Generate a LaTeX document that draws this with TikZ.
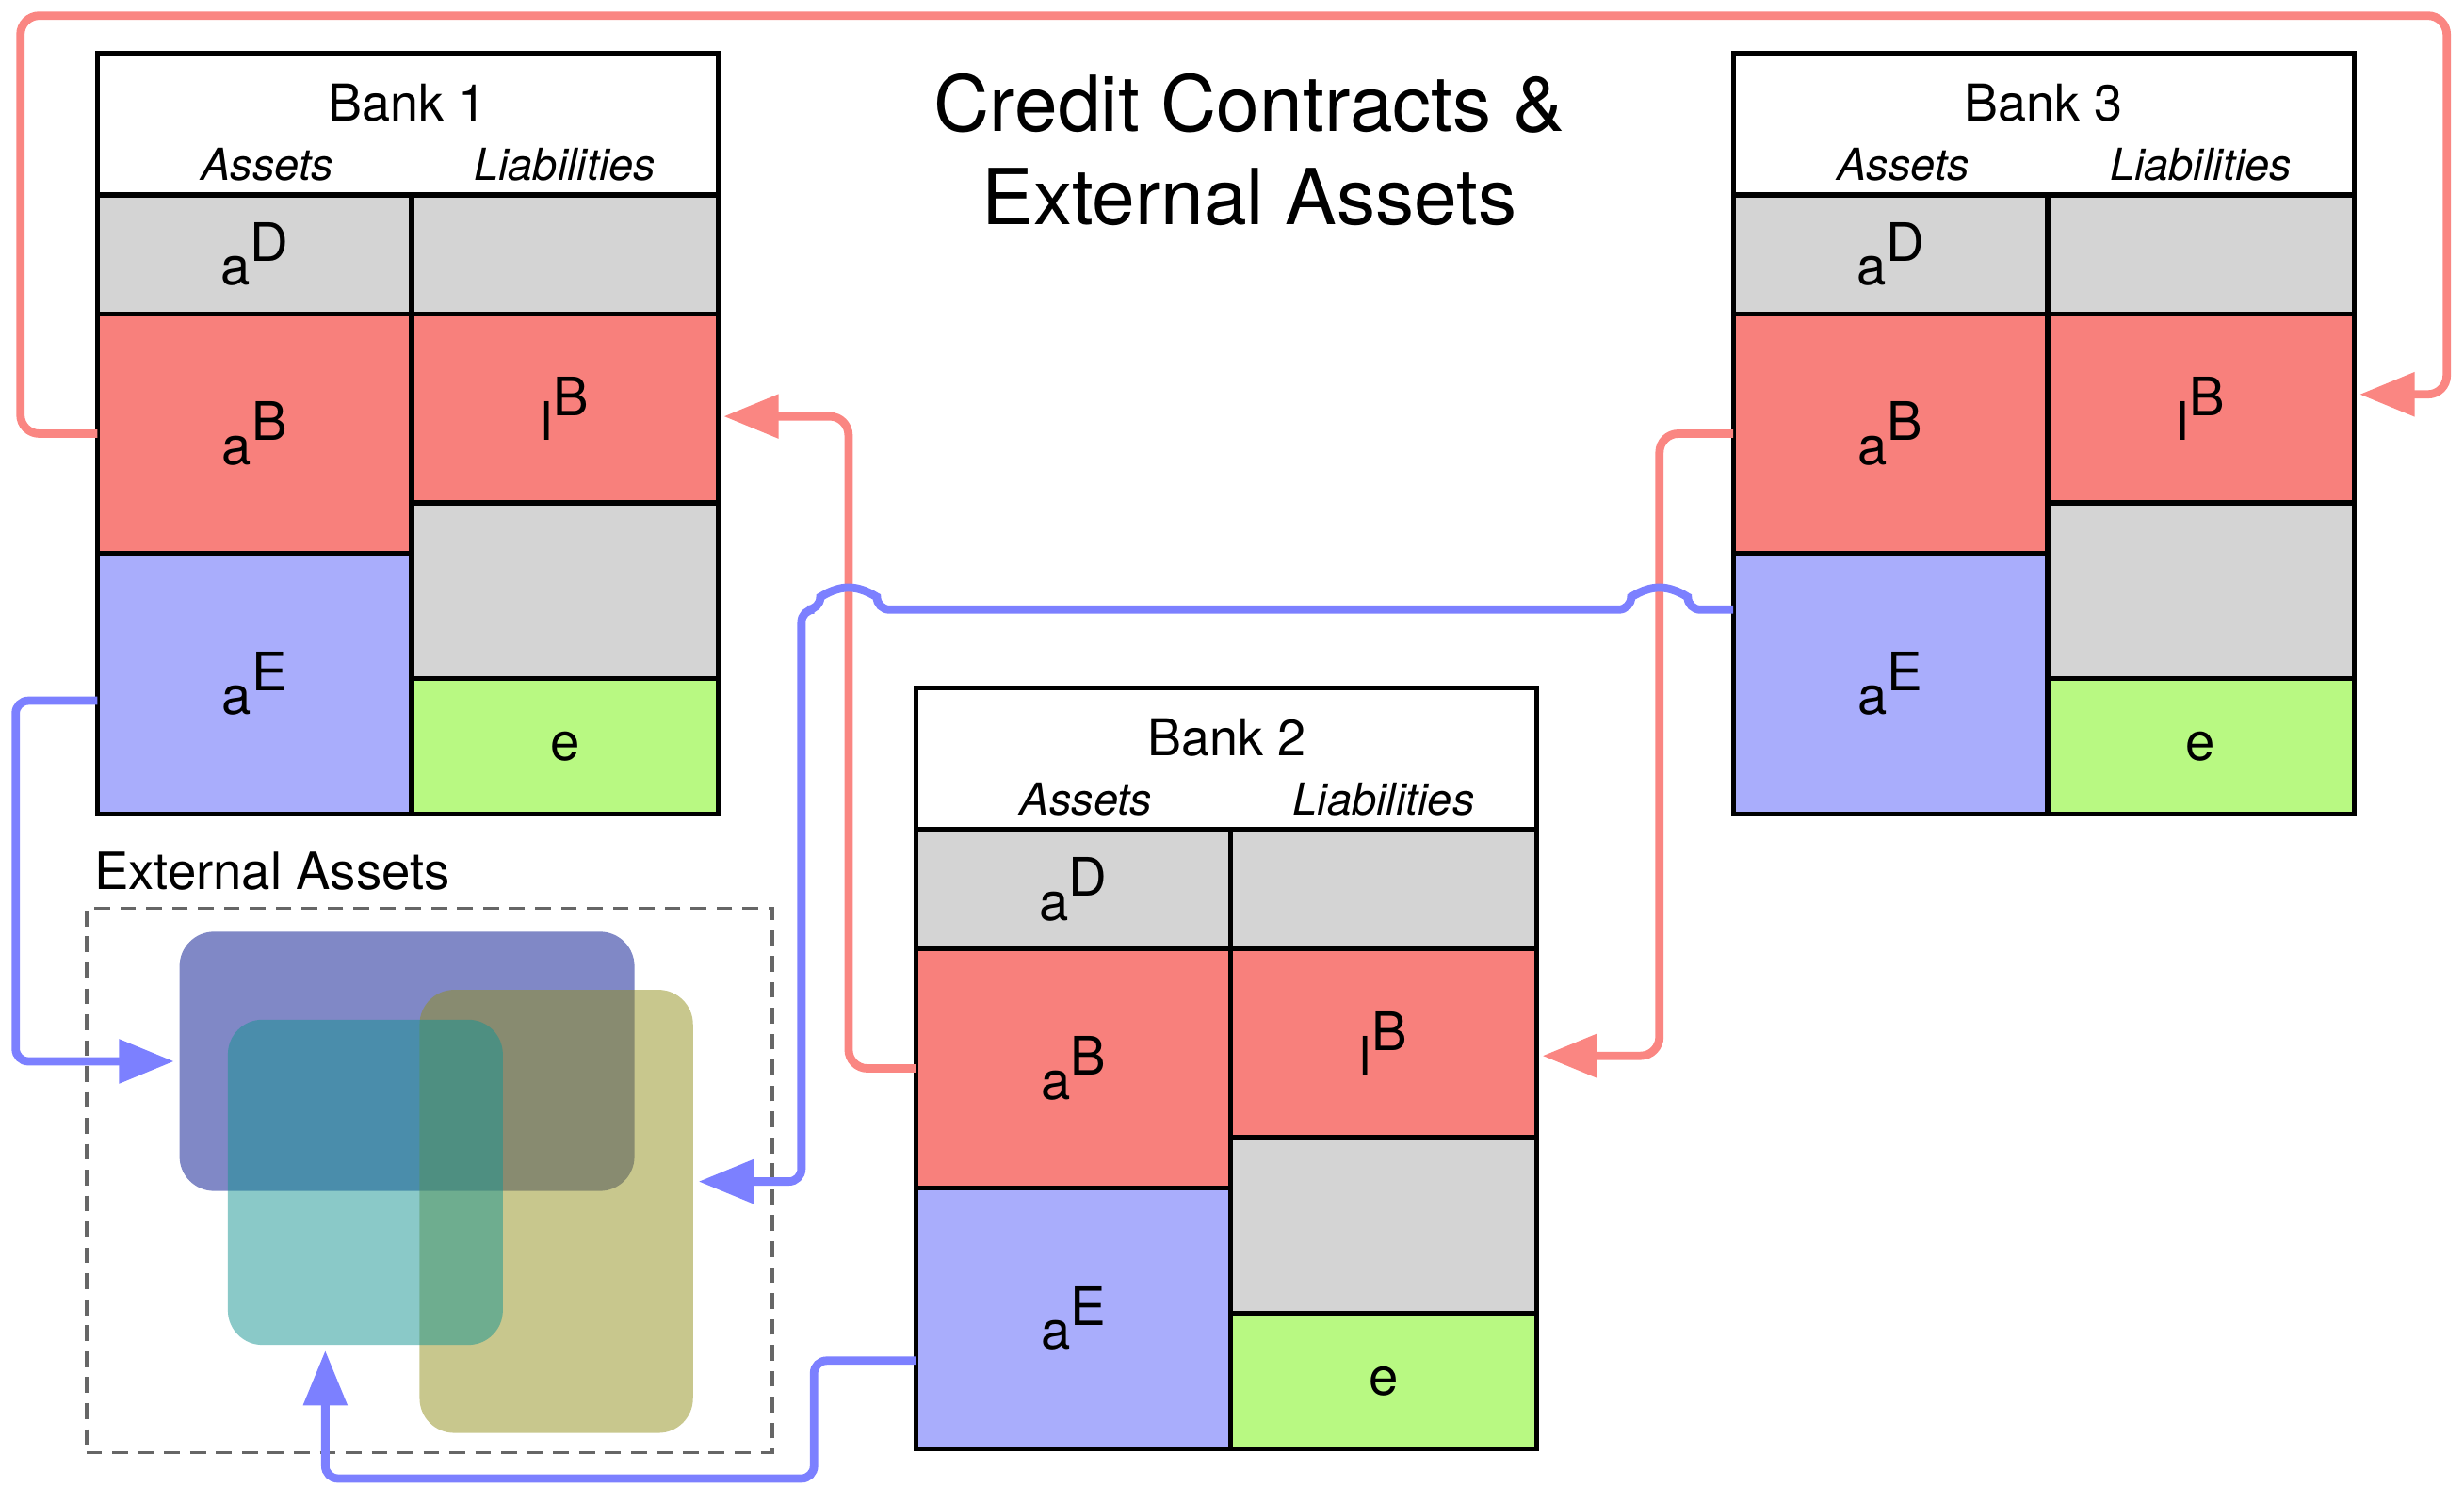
\documentclass[tikz,border=0pt]{standalone}
\usepackage{fontspec}
\setmainfont{TeX Gyre Heros}
\usetikzlibrary{arrows.meta}

\definecolor{cellgrey}{RGB}{212,212,212}
\definecolor{cellred}{RGB}{248,128,124}
\definecolor{cellblue}{RGB}{169,173,252}
\definecolor{cellgreen}{RGB}{184,249,130}
\definecolor{linkred}{RGB}{250,134,130}
\definecolor{linkblue}{RGB}{124,128,255}
\definecolor{extnavy}{RGB}{1,17,141}
\definecolor{extolive}{RGB}{145,143,27}
\definecolor{extteal}{RGB}{21,148,146}

\begin{document}
\begin{tikzpicture}[every node/.style={inner sep=0pt, outer sep=0pt},
  head/.style={draw, line width=0.9pt, anchor=north west, fill=white, minimum width=3.95cm, minimum height=0.90cm},
  cell/.style={draw, line width=0.9pt, anchor=north west, font=\fontsize{9.6}{11}\selectfont},
  greycell/.style={cell, fill=cellgrey},
  redcell/.style={cell, fill=cellred},
  bluecell/.style={cell, fill=cellblue},
  greencell/.style={cell, fill=cellgreen},
  acol/.style={minimum width=2.00cm},
  lcol/.style={minimum width=1.95cm},
  banklabel/.style={anchor=base, font=\fontsize{9.2}{10}\selectfont},
  collabel/.style={anchor=base, font=\fontsize{8}{9}\selectfont\itshape},
  extbox/.style={rounded corners=0.22cm, fill opacity=0.5},
  redlink/.style={draw=linkred, line width=1.5pt, rounded corners=0.12cm, shorten >=1pt, -{Triangle[length=0.35cm, width=0.27cm]}},
  bluelink/.style={draw=linkblue, line width=1.5pt, rounded corners=0.08cm, shorten >=1pt, -{Triangle[length=0.35cm, width=0.27cm]}}]
\useasboundingbox (0,0) rectangle (15.68,9.46);

\node[anchor=north, align=center, font=\fontsize{14}{16.8}\selectfont] (title) at (7.95,8.99) {Credit Contracts \&\\External Assets};

% bank 1
\node[head] (B1) at (0.62,9.12) {};
\node[banklabel] (B1-name) at ([yshift=-0.43cm]B1.north) {Bank 1};
\node[collabel] (B1-assets) at ([xshift=1.08cm, yshift=-0.81cm]B1.north west) {Assets};
\node[collabel] (B1-liab) at ([xshift=2.975cm, yshift=-0.81cm]B1.north west) {Liabilities};
\node[greycell, acol, minimum height=0.76cm] (B1-aD) at (B1.south west) {a\raisebox{4.3pt}{D}};
\node[redcell, acol, minimum height=1.52cm] (B1-aB) at (B1-aD.south west) {a\raisebox{4.3pt}{B}};
\node[bluecell, acol, minimum height=1.66cm] (B1-aE) at (B1-aB.south west) {a\raisebox{4.3pt}{E}};
\node[greycell, lcol, minimum height=0.76cm] (B1-lD) at (B1-aD.north east) {};
\node[redcell, lcol, minimum height=1.20cm] (B1-lB) at (B1-lD.south west) {l\raisebox{4.5pt}{B}};
\node[greycell, lcol, minimum height=1.12cm] (B1-lO) at (B1-lB.south west) {};
\node[greencell, lcol, minimum height=0.86cm] (B1-e) at (B1-lO.south west) {e};

% bank 2
\node[head] (B2) at (5.83,5.08) {};
\node[banklabel] (B2-name) at ([yshift=-0.43cm]B2.north) {Bank 2};
\node[collabel] (B2-assets) at ([xshift=1.08cm, yshift=-0.81cm]B2.north west) {Assets};
\node[collabel] (B2-liab) at ([xshift=2.975cm, yshift=-0.81cm]B2.north west) {Liabilities};
\node[greycell, acol, minimum height=0.76cm] (B2-aD) at (B2.south west) {a\raisebox{4.3pt}{D}};
\node[redcell, acol, minimum height=1.52cm] (B2-aB) at (B2-aD.south west) {a\raisebox{4.3pt}{B}};
\node[bluecell, acol, minimum height=1.66cm] (B2-aE) at (B2-aB.south west) {a\raisebox{4.3pt}{E}};
\node[greycell, lcol, minimum height=0.76cm] (B2-lD) at (B2-aD.north east) {};
\node[redcell, lcol, minimum height=1.20cm] (B2-lB) at (B2-lD.south west) {l\raisebox{4.5pt}{B}};
\node[greycell, lcol, minimum height=1.12cm] (B2-lO) at (B2-lB.south west) {};
\node[greencell, lcol, minimum height=0.86cm] (B2-e) at (B2-lO.south west) {e};

% bank 3
\node[head] (B3) at (11.03,9.12) {};
\node[banklabel] (B3-name) at ([yshift=-0.43cm]B3.north) {Bank 3};
\node[collabel] (B3-assets) at ([xshift=1.08cm, yshift=-0.81cm]B3.north west) {Assets};
\node[collabel] (B3-liab) at ([xshift=2.975cm, yshift=-0.81cm]B3.north west) {Liabilities};
\node[greycell, acol, minimum height=0.76cm] (B3-aD) at (B3.south west) {a\raisebox{4.3pt}{D}};
\node[redcell, acol, minimum height=1.52cm] (B3-aB) at (B3-aD.south west) {a\raisebox{4.3pt}{B}};
\node[bluecell, acol, minimum height=1.66cm] (B3-aE) at (B3-aB.south west) {a\raisebox{4.3pt}{E}};
\node[greycell, lcol, minimum height=0.76cm] (B3-lD) at (B3-aD.north east) {};
\node[redcell, lcol, minimum height=1.20cm] (B3-lB) at (B3-lD.south west) {l\raisebox{4.5pt}{B}};
\node[greycell, lcol, minimum height=1.12cm] (B3-lO) at (B3-lB.south west) {};
\node[greencell, lcol, minimum height=0.86cm] (B3-e) at (B3-lO.south west) {e};

% external assets
\node[anchor=base west, font=\fontsize{9.3}{10}\selectfont] (ext-label) at (0.60,3.80) {External Assets};
\node[draw=black!60, line width=0.6pt, dash pattern=on 0.1cm off 0.065cm, minimum width=4.365cm, minimum height=3.465cm] (ext) at (2.7325,1.9475) {};
\node[extbox, fill=extnavy, minimum width=2.895cm, minimum height=1.65cm] (ext1) at (2.59,2.705) {};
\node[extbox, fill=extolive, minimum width=1.74cm, minimum height=2.82cm] (ext2) at (3.54,1.75) {};
\node[extbox, fill=extteal, minimum width=1.75cm, minimum height=2.07cm] (ext3) at (2.325,1.935) {};

% credit links
\draw[redlink] (B1-aB.west) -| (0.13,9.36) -| (15.57,6.95) -- ([yshift=0.09cm]B3-lB.east);
\draw[redlink] (B2-aB.west) -| (5.40,6.81) -- ([yshift=-0.05cm]B1-lB.east);
\draw[redlink] (B3-aB.west) -| (10.56,2.74) -- ([yshift=-0.08cm]B2-lB.east);

% external asset links
\draw[bluelink] ([yshift=-0.11cm]B1-aE.west) -| (0.10,2.705) -- (ext1.west);
\draw[bluelink] ([yshift=0.47cm]B3-aE.west) -- (10.74,5.58) arc[start angle=0, end angle=180, x radius=0.18, y radius=0.14] -- (5.58,5.58) arc[start angle=0, end angle=180, x radius=0.18, y radius=0.14] -- (5.10,5.58) -- (5.10,1.94) -- ([yshift=0.19cm]ext2.east);
\draw[bluelink] ([yshift=-0.27cm]B2-aE.west) -| (5.18,0.05) -| ([xshift=-0.255cm]ext3.south);
\end{tikzpicture}
\end{document}
